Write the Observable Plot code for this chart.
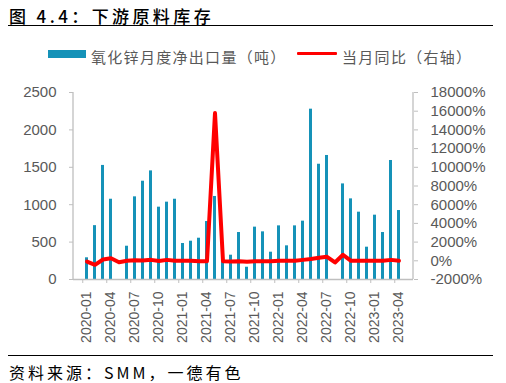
<!DOCTYPE html>
<html>
<head>
<meta charset="utf-8">
<script src="https://cdn.jsdelivr.net/npm/d3@7"></script>
<script src="https://cdn.jsdelivr.net/npm/@observablehq/plot@0.6"></script>
<style>
  html, body { margin: 0; padding: 0; background: #fff; }
  #wrap { position: relative; width: 506px; height: 383px; overflow: hidden; }
  .abs { position: absolute; white-space: nowrap; line-height: 1; }
  #title { left: 9px; top: 3px; font: 500 17px "Noto Sans CJK SC", sans-serif; color: #000; letter-spacing: 3.4px; }
  #rule1 { left: 8px; top: 25px; width: 485px; height: 1px; background: #000; }
  #rule2 { left: 8px; top: 355px; width: 485px; height: 1px; background: #000; }
  #source { left: 9px; top: 360px; font: 16px "Noto Sans CJK SC", sans-serif; color: #000; letter-spacing: 3px; }
  .legtext { font: 15px "Noto Sans CJK SC", sans-serif; color: #595959; top: 46px; letter-spacing: 1.3px; }
  #plot { position: absolute; left: 0; top: 0; }
</style>
</head>
<body>
<div id="wrap">
  <div id="plot"></div>
  <div class="abs" id="title">图 4.4：下游原料库存</div>
  <div class="abs" id="rule1"></div>
  <div class="abs" style="left:48px;top:50px;width:38px;height:8px;background:#1592B8"></div>
  <div class="abs legtext" style="left:91px">氧化锌月度净出口量（吨）</div>
  <div class="abs" style="left:297px;top:52px;width:40px;height:3px;background:#FF0000;border-radius:1px"></div>
  <div class="abs legtext" style="left:342px">当月同比（右轴）</div>
  <div class="abs" id="rule2"></div>
  <div class="abs" id="source">资料来源：SMM，一德有色</div>
</div>
<script>
const months = [
  "2020-01","2020-02","2020-03","2020-04","2020-05","2020-06","2020-07","2020-08","2020-09","2020-10","2020-11","2020-12",
  "2021-01","2021-02","2021-03","2021-04","2021-05","2021-06","2021-07","2021-08","2021-09","2021-10","2021-11","2021-12",
  "2022-01","2022-02","2022-03","2022-04","2022-05","2022-06","2022-07","2022-08","2022-09","2022-10","2022-11","2022-12",
  "2023-01","2023-02","2023-03","2023-04"
];
const netExports = [
  290,720,1525,1073,null,445,1105,1314,1452,967,1034,1073,
  481,512,552,775,1110,481,325,628,164,700,637,365,
  717,450,717,780,2277,1541,1658,null,1278,1078,900,432,
  860,628,1591,922
];
const yoyPct = [
  -80,-430,140,280,-150,0,60,30,100,-30,100,0,
  0,0,-50,-50,15800,-50,-70,-50,-100,-50,-50,-50,
  0,0,0,100,200,320,430,-180,640,0,0,0,
  0,0,100,0
];
const xTickLabels = ["2020-01","2020-04","2020-07","2020-10","2021-01","2021-04","2021-07","2021-10","2022-01","2022-04","2022-07","2022-10","2023-01","2023-04"];
const leftTicks = [0,500,1000,1500,2000,2500];
const rightTicks = [-2000,0,2000,4000,6000,8000,10000,12000,14000,16000,18000];

const data = months.map((m, i) => ({month: m, exports: netExports[i], yoy: yoyPct[i]}));
// right axis (-2000%..18000%) mapped onto left axis (0..2500)
const toLeft = v => (v + 2000) / 8;
const fromLeft = d => Math.round(d * 8 - 2000);

const W = 506, H = 383, mL = 73, mR = 93, mT = 92, mB = 104;
const step = (W - mL - mR) / months.length;
const gray = "#BFBFBF", textGray = "#595959";

const axisLines = (index, scales, values, dims) => {
  const g = d3.create("svg:g").attr("stroke", gray).attr("stroke-width", 1.3);
  g.append("line").attr("x1", dims.marginLeft).attr("x2", dims.marginLeft)
    .attr("y1", dims.marginTop).attr("y2", dims.height - dims.marginBottom);
  g.append("line").attr("x1", dims.width - dims.marginRight).attr("x2", dims.width - dims.marginRight)
    .attr("y1", dims.marginTop).attr("y2", dims.height - dims.marginBottom);
  return g.node();
};

const chart = Plot.plot({
  width: W, height: H,
  marginTop: mT, marginBottom: mB, marginLeft: mL, marginRight: mR,
  style: {fontFamily: "'Liberation Sans', Arial, sans-serif", background: "transparent", color: textGray},
  x: {type: "band", domain: months, paddingInner: 0.6, paddingOuter: 0.3, label: null},
  y: {domain: [0, 2500], label: null},
  marks: [
    Plot.barY(data.filter(d => d.exports != null), {x: "month", y: "exports", fill: "#1592B8"}),
    Plot.ruleY([0], {stroke: gray, strokeWidth: 1.3}),
    axisLines,
    Plot.line(data, {x: "month", y: d => toLeft(d.yoy), stroke: "#FF0000", strokeWidth: 4, strokeLinejoin: "round", curve: "linear"}),
    Plot.axisY(leftTicks, {anchor: "left", tickSize: 4, tickPadding: 13, fontSize: 15, stroke: gray, fill: textGray, tickFormat: d => String(d), label: null}),
    Plot.axisY(rightTicks.map(toLeft), {anchor: "right", tickSize: 4, tickPadding: 13, fontSize: 15, stroke: gray, fill: textGray, tickFormat: d => fromLeft(d) + "%", label: null}),
    Plot.axisX(xTickLabels, {anchor: "bottom", tickSize: 4, dx: -step / 2, tickFormat: () => "", stroke: gray, label: null}),
    Plot.axisX(xTickLabels, {anchor: "bottom", tickSize: 0, tickPadding: 12, tickRotate: -90, fontSize: 14, fill: textGray, label: null})
  ]
});
document.getElementById("plot").appendChild(chart);
</script>
</body>
</html>
